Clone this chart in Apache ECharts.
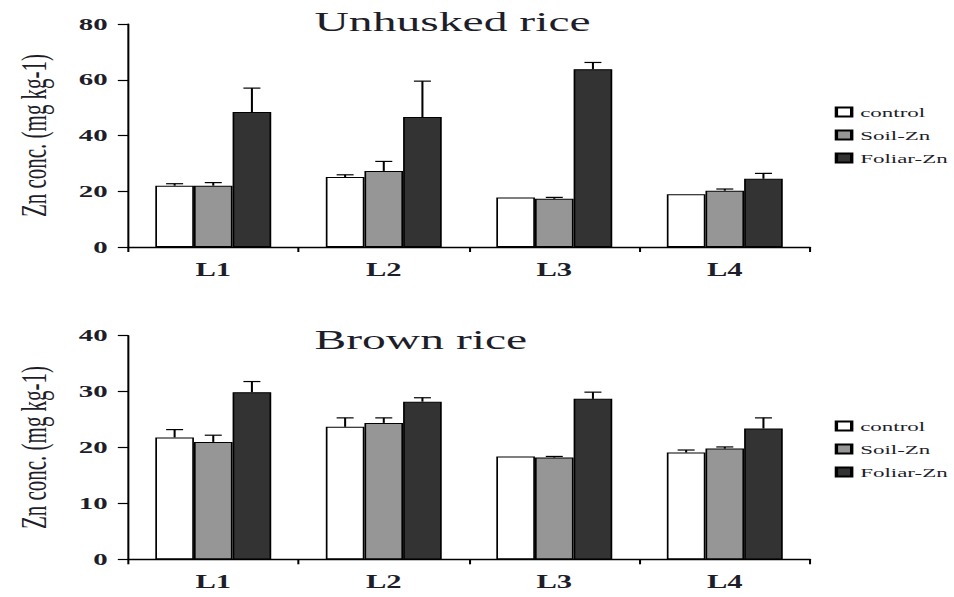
<!DOCTYPE html>
<html>
<head>
<meta charset="utf-8">
<script src="https://cdn.jsdelivr.net/npm/echarts@6/dist/echarts.min.js"></script>
<style>
  html, body { margin: 0; padding: 0; background: #fff; overflow: hidden; }
  /* the figure is laid out narrow and widened horizontally */
  #chart { width: 561px; height: 597px; transform: scaleX(1.7); transform-origin: 0 0; }
</style>
</head>
<body>
<div id="chart"></div>
<script>
// Zn concentration (mg kg-1) per location and treatment
const categories = ['L1', 'L2', 'L3', 'L4'];
const treatments = ['control', 'Soil-Zn', 'Foliar-Zn'];

const unhuskedControl = [22.0, 25.1, 17.8, 18.9];
const unhuskedSoil    = [22.0, 27.3, 17.3, 20.2];
const unhuskedFoliar  = [48.4, 46.6, 63.8, 24.5];
const unhuskedControlErr = [0.7, 0.8, 0, 0];
const unhuskedSoilErr    = [1.1, 3.4, 0.5, 0.6];
const unhuskedFoliarErr  = [8.6, 12.9, 2.4, 1.9];

const brownControl = [21.8, 23.7, 18.4, 19.1];
const brownSoil    = [21.0, 24.4, 18.2, 19.8];
const brownFoliar  = [29.9, 28.2, 28.7, 23.4];
const brownControlErr = [1.4, 1.6, 0, 0.45];
const brownSoilErr    = [1.2, 0.9, 0.2, 0.3];
const brownFoliarErr  = [1.9, 0.7, 1.2, 1.9];

const unhuskedTicks = { min: 0, max: 80, interval: 20 };
const brownTicks = { min: 0, max: 40, interval: 10 };

const FONT = "'Liberation Serif', 'Times New Roman', serif";
const TXT = '#1e1e2a';
const fills = ['#ffffff', '#969696', '#333333'];
const CAT_GAP = 0.32;

const chart = echarts.init(document.getElementById('chart'), null, { renderer: 'svg' });

function barSeries(name, values, idx, panel) {
  return {
    type: 'bar', name: name, data: values,
    xAxisIndex: panel, yAxisIndex: panel,
    barGap: '0%', barCategoryGap: (CAT_GAP * 100) + '%',
    itemStyle: { color: fills[idx], borderColor: '#000', borderWidth: 1 },
    emphasis: { disabled: true }, animation: false
  };
}

function errSeries(values, errs, idx, panel) {
  const data = values.map((v, i) => [i, v, errs[i]]);
  return {
    type: 'custom', name: 'err-' + panel + '-' + idx,
    xAxisIndex: panel, yAxisIndex: panel, z: 5, silent: true, animation: false,
    data: data,
    encode: { x: 0, y: 1 },
    renderItem: function (params, api) {
      const err = api.value(2);
      if (!err) return null;
      const base = api.coord([api.value(0), api.value(1)]);
      const top = api.coord([api.value(0), api.value(1) + err]);
      const band = api.size([1, 0])[0];
      const barW = band * (1 - CAT_GAP) / 3;
      const x = base[0] + (idx - 1) * barW;
      const cap = barW * 0.22;
      const style = { stroke: '#000', lineWidth: 1.2 };
      return {
        type: 'group',
        children: [
          { type: 'line', shape: { x1: x, y1: base[1], x2: x, y2: top[1] }, style: style },
          { type: 'line', shape: { x1: x - cap, y1: top[1], x2: x + cap, y2: top[1] }, style: style }
        ]
      };
    }
  };
}

function xAxis(panel) {
  return {
    type: 'category', gridIndex: panel, data: categories,
    axisLine: { lineStyle: { color: '#000', width: 1.4 } },
    axisTick: { show: true, length: 5, lineStyle: { color: '#000', width: 1.2 } },
    axisLabel: { color: TXT, fontFamily: FONT, fontSize: 18, fontWeight: 'bold', margin: 14 }
  };
}

function yAxis(panel, ticks) {
  return {
    type: 'value', gridIndex: panel,
    min: ticks.min, max: ticks.max, interval: ticks.interval,
    name: 'Zn conc. (mg kg-1)', nameLocation: 'middle', nameGap: 45,
    nameTextStyle: { color: TXT, fontFamily: FONT, fontSize: 21 },
    axisLine: { show: true, lineStyle: { color: '#000', width: 1.2 } },
    axisTick: { show: true, length: 6, lineStyle: { color: '#000', width: 1.2 } },
    splitLine: { show: false },
    axisLabel: { color: TXT, fontFamily: FONT, fontSize: 17, fontWeight: 'bold', margin: 12 }
  };
}

function legend(top) {
  return {
    data: treatments, orient: 'vertical', left: 491, top: top, padding: 0,
    icon: 'rect', itemWidth: 9, itemHeight: 9, itemGap: 9,
    selectedMode: false,
    textStyle: { color: TXT, fontFamily: FONT, fontSize: 13.5 }
  };
}

const option = {
  backgroundColor: '#fff',
  animation: false,
  title: [
    { text: 'Unhusked rice', left: 180, top: 2,
      textStyle: { color: TXT, fontFamily: FONT, fontSize: 28, fontWeight: 'normal' } },
    { text: 'Brown rice', left: 180, top: 320,
      textStyle: { color: TXT, fontFamily: FONT, fontSize: 28, fontWeight: 'normal' } }
  ],
  legend: [legend(105), legend(419)],
  grid: [
    { left: 75.3, width: 401.2, top: 24, height: 223 },
    { left: 75.3, width: 401.2, top: 335.7, height: 223.6 }
  ],
  xAxis: [xAxis(0), xAxis(1)],
  yAxis: [yAxis(0, unhuskedTicks), yAxis(1, brownTicks)],
  series: [
    barSeries(treatments[0], unhuskedControl, 0, 0),
    barSeries(treatments[1], unhuskedSoil, 1, 0),
    barSeries(treatments[2], unhuskedFoliar, 2, 0),
    errSeries(unhuskedControl, unhuskedControlErr, 0, 0),
    errSeries(unhuskedSoil, unhuskedSoilErr, 1, 0),
    errSeries(unhuskedFoliar, unhuskedFoliarErr, 2, 0),
    barSeries(treatments[0], brownControl, 0, 1),
    barSeries(treatments[1], brownSoil, 1, 1),
    barSeries(treatments[2], brownFoliar, 2, 1),
    errSeries(brownControl, brownControlErr, 0, 1),
    errSeries(brownSoil, brownSoilErr, 1, 1),
    errSeries(brownFoliar, brownFoliarErr, 2, 1)
  ]
};

chart.setOption(option);
</script>
</body>
</html>
